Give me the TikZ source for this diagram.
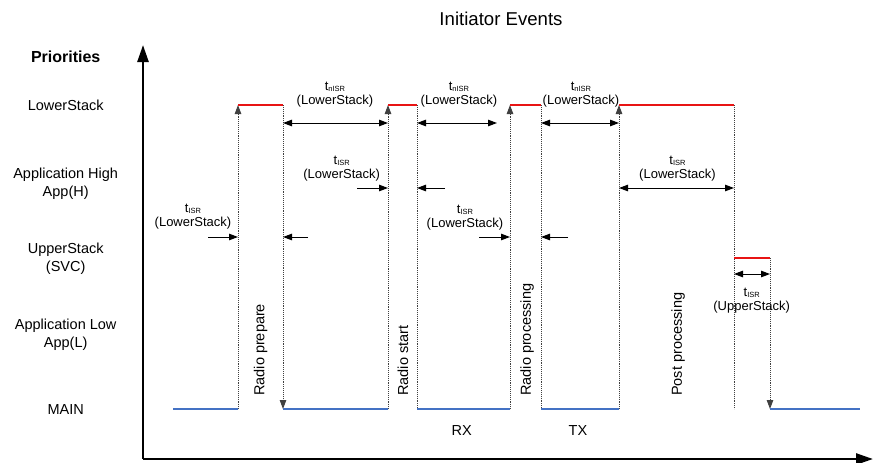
\documentclass[tikz,border=0pt]{standalone}
\usepackage{fontspec}
\setmainfont{Liberation Sans}
\usetikzlibrary{arrows.meta}
\definecolor{busred}{RGB}{232,20,20}
\definecolor{idleblue}{RGB}{68,114,196}
% subscript for the interrupt-time labels
\newcommand\isrsub[1]{\raisebox{-1pt}{\fontsize{7.5}{8}\selectfont #1}}
\begin{document}
\begin{tikzpicture}[x=1pt,y=-1pt,
  lvl/.style={font=\fontsize{14.5}{18}\selectfont, align=center, inner sep=0},
  tlab/.style={font=\fontsize{13}{14}\selectfont, align=center, inner sep=0},
  vlab/.style={font=\fontsize{14.5}{16}\selectfont, rotate=90, anchor=west, inner sep=0},
  busy/.style={busred, line width=2.2pt},
  idle/.style={idleblue, line width=2.2pt},
  switchline/.style={densely dotted, line width=0.9pt, black!75},
  onetip/.style={-{Triangle[length=9pt,width=6.5pt]}},
  twotip/.style={{Triangle[length=9pt,width=6.5pt]}-{Triangle[length=9pt,width=6.5pt]}, line width=1pt},
  shortarrow/.style={-{Triangle[length=9pt,width=6.5pt]}, line width=1pt},
  axisline/.style={line width=2.5pt, -{Triangle[length=17pt,width=11pt]}},
]
\useasboundingbox (0,0) rectangle (873,463);

% axes
\coordinate (org) at (143,459);
\coordinate (ytop) at (143,45);
\coordinate (xend) at (873,459);
\draw[axisline] (org) -- (ytop);
\draw[axisline] (org) -- (xend);

% title and priority levels
\node[font=\fontsize{18.6}{20}\selectfont, inner sep=0] (title) at (501,19) {Initiator Events};
\node[lvl, font=\fontsize{16}{18}\selectfont\bfseries] (prio) at (65.7,56.7) {Priorities};
\node[lvl] (lvlLS) at (65.7,105) {LowerStack};
\node[lvl] (lvlAH) at (65.7,184) {Application High\\App(H)};
\node[lvl] (lvlUS) at (65.7,258.5) {UpperStack\\(SVC)};
\node[lvl] (lvlAL) at (65.7,335) {Application Low\\App(L)};
\node[lvl] (lvlM) at (65.7,409.3) {MAIN};

% MAIN level points
\coordinate (m0) at (173,409);
\coordinate (m1) at (238,409);
\coordinate (m2) at (283,409);
\coordinate (m3) at (388,409);
\coordinate (m4) at (417,409);
\coordinate (m5) at (510,409);
\coordinate (m6) at (541,409);
\coordinate (m7) at (619,409);
\coordinate (m8) at (734,409);
\coordinate (m9) at (770,409);
\coordinate (m10) at (860,409);
% LowerStack level points
\coordinate (h1) at (238,105);
\coordinate (h2) at (283,105);
\coordinate (h3) at (388,105);
\coordinate (h4) at (417,105);
\coordinate (h5) at (510,105);
\coordinate (h6) at (541,105);
\coordinate (h7) at (619,105);
\coordinate (h8) at (734,105);
% UpperStack level points
\coordinate (s8) at (734,258);
\coordinate (s9) at (770,258);

% context switches
\draw[switchline, onetip] (m1) -- (h1);
\draw[switchline, onetip] (h2) -- (m2);
\draw[switchline, onetip] (m3) -- (h3);
\draw[switchline] (h4) -- (m4);
\draw[switchline, onetip] (m5) -- (h5);
\draw[switchline] (h6) -- (m6);
\draw[switchline, onetip] (m7) -- (h7);
\draw[switchline] (h8) -- (m8);
\draw[switchline, onetip] (s9) -- (m9);

% running segments
\draw[idle] (m0) -- (m1);
\draw[idle] (m2) -- (m3);
\draw[idle] (m4) -- (m5);
\draw[idle] (m6) -- (m7);
\draw[idle] (m9) -- (m10);
\draw[busy] (h1) -- (h2);
\draw[busy] (h3) -- (h4);
\draw[busy] (h5) -- (h6);
\draw[busy] (h7) -- (h8);
\draw[busy] (s8) -- (s9);

% non-ISR durations
\coordinate (n1a) at (283,123); \coordinate (n1b) at (388,123);
\coordinate (n2a) at (417,123); \coordinate (n2b) at (497,123);
\coordinate (n3a) at (541,123); \coordinate (n3b) at (619,123);
\draw[twotip] (n1a) -- (n1b);
\draw[twotip] (n2a) -- (n2b);
\draw[twotip] (n3a) -- (n3b);
\node[tlab] (tn1) at (335,95) {t\isrsub{nISR}\\(LowerStack)};
\node[tlab] (tn2) at (459,95) {t\isrsub{nISR}\\(LowerStack)};
\node[tlab] (tn3) at (581,95) {t\isrsub{nISR}\\(LowerStack)};

% ISR entry and exit markers
\coordinate (e1a) at (208,237); \coordinate (e1b) at (238,237);
\coordinate (x1a) at (308,237); \coordinate (x1b) at (283,237);
\coordinate (e2a) at (357,188); \coordinate (e2b) at (388,188);
\coordinate (x2a) at (445,188); \coordinate (x2b) at (417,188);
\coordinate (e3a) at (479,237); \coordinate (e3b) at (510,237);
\coordinate (x3a) at (568,237); \coordinate (x3b) at (541,237);
\draw[shortarrow] (e1a) -- (e1b);
\draw[shortarrow] (x1a) -- (x1b);
\draw[shortarrow] (e2a) -- (e2b);
\draw[shortarrow] (x2a) -- (x2b);
\draw[shortarrow] (e3a) -- (e3b);
\draw[shortarrow] (x3a) -- (x3b);
\node[tlab] (ti1) at (193,217) {t\isrsub{ISR}\\(LowerStack)};
\node[tlab] (ti2) at (341.7,169) {t\isrsub{ISR}\\(LowerStack)};
\node[tlab] (ti3) at (465,217.5) {t\isrsub{ISR}\\(LowerStack)};

% ISR durations
\coordinate (d4a) at (619,188); \coordinate (d4b) at (734,188);
\coordinate (d5a) at (734,274); \coordinate (d5b) at (770,274);
\draw[twotip] (d4a) -- (d4b);
\draw[twotip] (d5a) -- (d5b);
\node[tlab] (ti4) at (677.5,169) {t\isrsub{ISR}\\(LowerStack)};
\node[tlab] (ti5) at (751.7,300.5) {t\isrsub{ISR}\\(UpperStack)};

% phase names
\node[vlab] (rp) at (260.7,396) {Radio prepare};
\node[vlab] (rs) at (403,396) {Radio start};
\node[vlab] (rproc) at (527,396) {Radio processing};
\node[vlab] (pp) at (678,396) {Post processing};
\node[lvl] (rx) at (461.7,430.7) {RX};
\node[lvl] (tx) at (578,430.7) {TX};
\end{tikzpicture}
\end{document}
